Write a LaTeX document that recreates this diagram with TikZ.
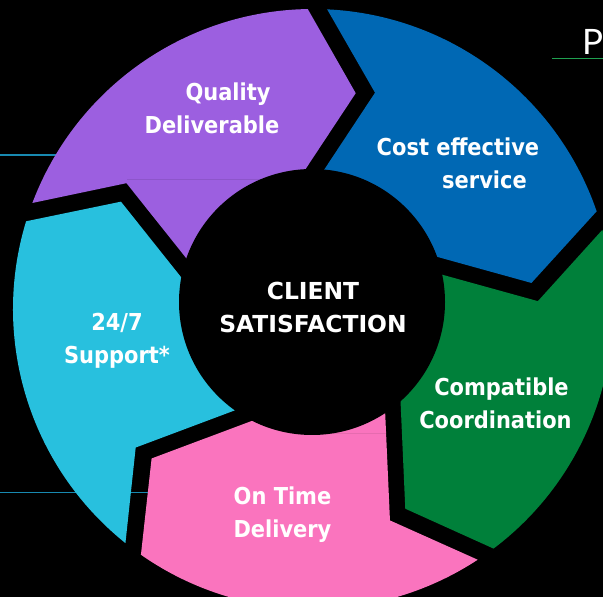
\documentclass[tikz,border=0pt]{standalone}
\usepackage{fontspec}
\setmainfont{DejaVu Sans}
\newfontfamily\lblfont{DejaVu Sans Condensed Bold}
\newfontfamily\hubfont{DejaVu Sans Bold}
\newfontfamily\titlefont{Lato}
\definecolor{segpurple}{HTML}{9C5FE0}
\definecolor{segblue}{HTML}{0068B4}
\definecolor{seggreen}{HTML}{00803A}
\definecolor{segpink}{HTML}{FA74BE}
\definecolor{segcyan}{HTML}{28C0DE}
\definecolor{rulecyan}{HTML}{1889B0}
\definecolor{rulegreen}{HTML}{1FA050}
\tikzset{
lbl/.style={text=white, align=center, inner sep=0pt, font=\lblfont\fontsize{23.3}{33}\selectfont},
hub/.style={text=white, align=center, inner sep=0pt, font=\hubfont\fontsize{23.4}{33}\selectfont},
cyanrule/.style={rulecyan, line width=1.6pt},
seam/.style={line width=0.8pt},
}
% one block of the ring: notch at the back, point at the front (clockwise)
\newcommand{\cycseg}[2]{%
\fill[#1, shift={(313,288)}, rotate=#2] (159.3:300) arc[start angle=159.3, end angle=91, radius=300pt]
  -- (78.8:220) -- (103:115) -- (165.6:112) -- (146:225) -- cycle;}

\begin{document}
\begin{tikzpicture}[x=1pt, y=1pt]
\fill[black] (0,0) rectangle (603,597);
\clip (0,0) rectangle (603,597);
% slide rules behind the ring
\draw[cyanrule] (0,442) -- (200,442);
\draw[cyanrule] (0,104.5) -- (250,104.5);
\draw[rulegreen, line width=1.6pt] (552,538.5) -- (603,538.5);
\node[anchor=base west, inner sep=0pt, text=white, font=\titlefont\fontsize{35}{35}\selectfont] (ptitle) at (582,542) {P};
% the five blocks
\cycseg{segpurple}{0}
\cycseg{segblue}{-72}
\cycseg{seggreen}{-144}
\cycseg{segpink}{-216}
\cycseg{segcyan}{-288}
\draw[seam, segpurple!90!black] (127,418) -- (307,418);
\draw[seam, segpink!92!black] (330,163.5) -- (386,163.5);
% centre
\fill[black] (312,295) circle[radius=133pt];
\node[hub] (client) at (313,290) {CLIENT\\SATISFACTION};
% labels
\node[lbl] (quality) at (212,488.5) {\hspace*{32pt}Quality\\Deliverable};
\node[lbl] (cost) at (458,433.5) {Cost effective\\\hspace*{53pt}service};
\node[lbl] (compat) at (495.5,194) {\hspace*{12pt}Compatible\\Coordination};
\node[lbl] (ontime) at (282.5,82.5) {On Time\\Delivery};
\node[lbl] (support) at (117,256) {24/7\\Support*};
\end{tikzpicture}
\end{document}
